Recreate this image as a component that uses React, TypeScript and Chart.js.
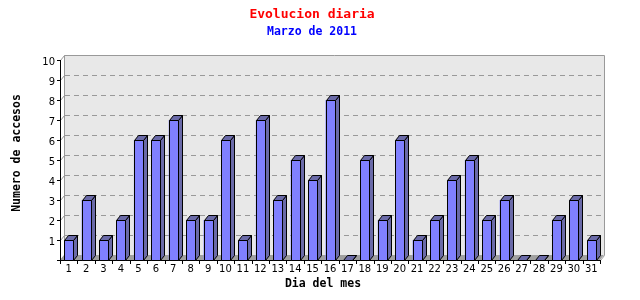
import React, { useEffect, useRef } from 'react';
import { Chart, registerables } from 'chart.js';

Chart.register(...registerables);

const days = ['1', '2', '3', '4', '5', '6', '7', '8', '9', '10', '11', '12', '13', '14', '15', '16', '17', '18', '19', '20', '21', '22', '23', '24', '25', '26', '27', '28', '29', '30', '31'];
const accesos = [1, 3, 1, 2, 6, 6, 7, 2, 2, 6, 1, 7, 3, 5, 4, 8, 0, 5, 2, 6, 1, 2, 4, 5, 2, 3, 0, 0, 2, 3, 1];
const yMin = 0;
const yMax = 10;
const yStep = 1;
const titleText = 'Evolucion diaria';
const subtitleText = 'Marzo de 2011';
const xTitle = 'Dia del mes';
const yTitle = 'Numero de accesos';

const DX = 4;
const DY = 5;
const FRONT = '#8080ff';
const SIDE = '#6a6aa8';
const WALL = '#e8e8e8';
const FLOOR = '#a0a0a0';
const GRID = '#999999';
const MONO = "'DejaVu Sans Mono', monospace";
const SANS = "'DejaVu Sans', sans-serif";

const wallPlugin = {
  id: 'wall3d',
  afterLayout(chart: any) {
    // nudge axis titles to match the reference placement
    const ys = chart.scales.y;
    ys.top -= 14;
    const xs = chart.scales.x;
    xs.right -= 14;
  },
  beforeDatasetsDraw(chart: any) {
    const { ctx, chartArea: ca, scales } = chart;
    const ys = scales.y;
    const L = Math.round(ca.left);
    const R = Math.round(ca.right);
    const T = Math.round(ca.top);
    const B = Math.round(ca.bottom);
    ctx.save();
    // back wall
    ctx.fillStyle = WALL;
    ctx.fillRect(L + DX, T - DY, R - L, B - T);
    // floor
    ctx.fillStyle = FLOOR;
    ctx.beginPath();
    ctx.moveTo(L, B);
    ctx.lineTo(R, B);
    ctx.lineTo(R + DX, B - DY);
    ctx.lineTo(L + DX, B - DY);
    ctx.closePath();
    ctx.fill();
    ctx.lineWidth = 1;
    // dashed gridlines on wall
    ctx.strokeStyle = GRID;
    ctx.setLineDash([5, 4]);
    for (let v = yMin + yStep; v < yMax; v += yStep) {
      const py = Math.round(ys.getPixelForValue(v)) - DY + 0.5;
      ctx.beginPath();
      ctx.moveTo(L + DX + 1, py);
      ctx.lineTo(R + DX, py);
      ctx.stroke();
    }
    ctx.setLineDash([]);
    // wall border
    ctx.beginPath();
    ctx.moveTo(L + DX + 0.5, B - DY);
    ctx.lineTo(L + DX + 0.5, T - DY + 0.5);
    ctx.lineTo(R + DX + 0.5, T - DY + 0.5);
    ctx.lineTo(R + DX + 0.5, B - DY + 0.5);
    ctx.stroke();
    // diagonal stubs
    for (let v = yMin; v <= yMax; v += yStep) {
      const py = Math.round(ys.getPixelForValue(v));
      ctx.beginPath();
      ctx.moveTo(L + 0.5, py + 0.5);
      ctx.lineTo(L + DX + 0.5, py - DY + 0.5);
      ctx.stroke();
    }
    ctx.beginPath();
    ctx.moveTo(R + 0.5, B + 0.5);
    ctx.lineTo(R + DX + 0.5, B - DY + 0.5);
    ctx.stroke();
    // axes
    ctx.strokeStyle = '#000';
    ctx.beginPath();
    ctx.moveTo(L + 0.5, T);
    ctx.lineTo(L + 0.5, B + 1);
    ctx.moveTo(L, B + 0.5);
    ctx.lineTo(R + 1, B + 0.5);
    ctx.stroke();
    // y tick stubs
    for (let v = yMin; v <= yMax; v += yStep) {
      const py = Math.round(ys.getPixelForValue(v)) + 0.5;
      ctx.beginPath();
      ctx.moveTo(L - 3, py);
      ctx.lineTo(L, py);
      ctx.stroke();
    }
    // x tick marks at band boundaries
    const n = days.length;
    const band = (ca.right - ca.left) / n;
    for (let i = 0; i <= n; i++) {
      const px = Math.round(ca.left + i * band) + 0.5;
      ctx.beginPath();
      ctx.moveTo(px, B);
      ctx.lineTo(px, B + 4);
      ctx.stroke();
    }
    ctx.restore();
  },
  afterDatasetsDraw(chart: any) {
    const { ctx } = chart;
    const meta = chart.getDatasetMeta(0);
    ctx.save();
    ctx.lineWidth = 1;
    ctx.strokeStyle = '#000';
    meta.data.forEach((bar: any) => {
      const { x, y, base, width } = bar.getProps(['x', 'y', 'base', 'width'], true);
      const x0 = Math.round(x - width / 2) + 0.5;
      const x1 = Math.round(x + width / 2) + 0.5;
      const yt = Math.round(y) + 0.5;
      const yb = Math.round(base) + 0.5;
      // side
      ctx.fillStyle = SIDE;
      ctx.beginPath();
      ctx.moveTo(x1, yt);
      ctx.lineTo(x1 + DX, yt - DY);
      ctx.lineTo(x1 + DX, yb - DY);
      ctx.lineTo(x1, yb);
      ctx.closePath();
      ctx.fill();
      ctx.stroke();
      // top
      ctx.beginPath();
      ctx.moveTo(x0, yt);
      ctx.lineTo(x0 + DX, yt - DY);
      ctx.lineTo(x1 + DX, yt - DY);
      ctx.lineTo(x1, yt);
      ctx.closePath();
      ctx.fill();
      ctx.stroke();
      // front
      ctx.fillStyle = FRONT;
      ctx.beginPath();
      ctx.rect(x0, yt, x1 - x0, yb - yt);
      ctx.fill();
      ctx.stroke();
    });
    ctx.restore();
  },
};

export default function App() {
  const ref = useRef<HTMLCanvasElement | null>(null);
  useEffect(() => {
    if (!ref.current) return;
    const chart = new Chart(ref.current, {
      type: 'bar',
      data: {
        labels: days,
        datasets: [
          {
            data: accesos,
            backgroundColor: FRONT,
            borderWidth: 0,
            barPercentage: 9 / (540 / 31),
            categoryPercentage: 1,
          },
        ],
      },
      options: {
        responsive: false,
        animation: false,
        devicePixelRatio: 1,
        layout: { padding: { left: 0, right: 16, top: 0, bottom: 0 } },
        plugins: {
          legend: { display: false },
          tooltip: { enabled: false },
          title: {
            display: true,
            text: titleText,
            color: '#ff0000',
            font: { family: MONO, size: 13, weight: 'bold' },
            padding: { top: 7, bottom: 3 },
          },
          subtitle: {
            display: true,
            text: subtitleText,
            color: '#0000ff',
            font: { family: MONO, size: 11.5, weight: 'bold' },
            padding: { top: 0, bottom: 20.6 },
          },
        },
        scales: {
          x: {
            type: 'category',
            offset: true,
            grid: { display: false, drawTicks: false },
            border: { display: false },
            ticks: {
              color: '#000',
              font: { family: SANS, size: 10 },
              padding: 3,
              autoSkip: false,
              maxRotation: 0,
            },
            title: {
              display: true,
              text: xTitle,
              color: '#000',
              font: { family: MONO, size: 11.5, weight: 'bold' },
              padding: { top: 0, bottom: 9 },
            },
            afterFit: (s: any) => {
              s.height = 40;
            },
          },
          y: {
            min: yMin,
            max: yMax,
            grid: { display: false, drawTicks: false },
            border: { display: false },
            ticks: {
              stepSize: yStep,
              color: '#000',
              font: { family: SANS, size: 10 },
              padding: 5,
              labelOffset: 2,
              callback: (v: any) => (v === 0 ? '' : String(v)),
            },
            title: {
              display: true,
              text: yTitle,
              color: '#000',
              font: { family: MONO, size: 11.5, weight: 'bold' },
              padding: { top: 10, bottom: 0 },
            },
            afterFit: (s: any) => {
              s.width = 60;
            },
          },
          y2: {
            position: 'right',
            display: true,
            grid: { display: false, drawTicks: false },
            border: { display: false },
            ticks: { display: false },
            afterFit: (s: any) => {
              s.width = 24;
            },
          },
        },
      },
      plugins: [wallPlugin],
    });
    return () => chart.destroy();
  }, []);
  return (
    <div style={{ position: 'absolute', left: 0, top: 0, width: 640, height: 300 }}>
      <canvas ref={ref} width={640} height={300} />
    </div>
  );
}
